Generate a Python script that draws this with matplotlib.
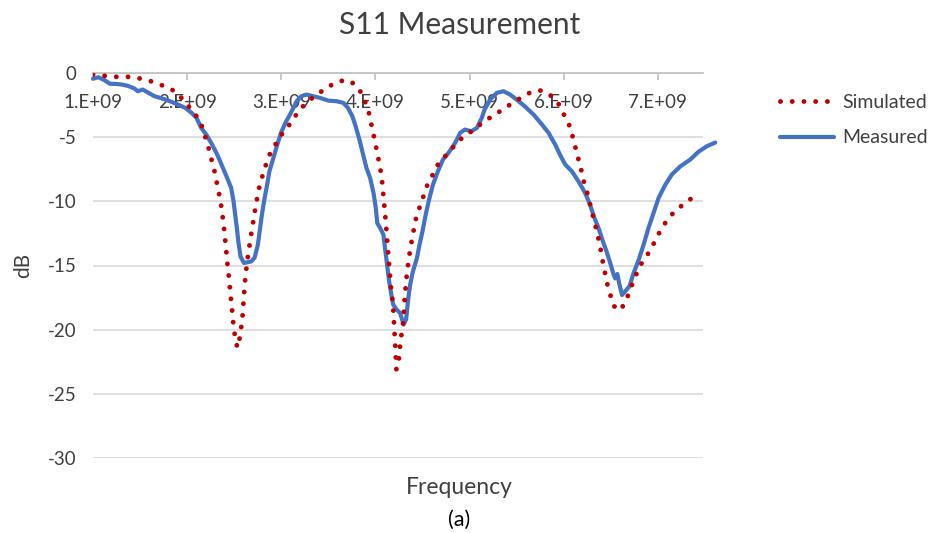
import numpy as np
import matplotlib
matplotlib.use("Agg")
import matplotlib.pyplot as plt
from matplotlib.ticker import FuncFormatter

plt.rcParams['font.family'] = ['Lato', 'DejaVu Sans']
plt.rcParams['axes.unicode_minus'] = False

# values (frequency in GHz, S11 in dB)
sim_ghz = [1.00, 1.10, 1.22, 1.33, 1.44, 1.54, 1.64, 1.73, 1.82, 1.90, 1.97, 2.04,
           2.10, 2.15, 2.185, 2.22, 2.249, 2.28, 2.302, 2.325, 2.348, 2.365, 2.38,
           2.393, 2.405, 2.416, 2.426, 2.44, 2.451, 2.462, 2.472, 2.483, 2.493,
           2.51, 2.533, 2.56, 2.587, 2.603, 2.621, 2.649, 2.684, 2.719, 2.759,
           2.82, 2.88, 2.96, 3.03, 3.09, 3.20, 3.35, 3.51, 3.61, 3.71, 3.795,
           3.85, 3.896, 3.931, 3.956, 3.98, 4.002, 4.023, 4.044, 4.066, 4.087,
           4.108, 4.126, 4.144, 4.162, 4.187, 4.201, 4.212, 4.223, 4.25, 4.265,
           4.294, 4.31, 4.328, 4.356, 4.392, 4.435, 4.477, 4.512, 4.548, 4.601,
           4.647, 4.711, 4.794, 4.852, 4.93, 5.01, 5.159, 5.325, 5.485, 5.573,
           5.657, 5.763, 5.851, 5.94, 6.029, 6.082, 6.10, 6.135, 6.16, 6.188,
           6.213, 6.246, 6.274, 6.30, 6.324, 6.352, 6.38, 6.40, 6.42, 6.443,
           6.465, 6.496, 6.531, 6.60, 6.66, 6.70, 6.742, 6.784, 6.83, 6.89,
           6.946, 6.996, 7.05, 7.11, 7.18, 7.26, 7.34, 7.41]
sim_db = [-0.12, -0.2, -0.30, -0.28, -0.33, -0.5, -0.69, -0.95, -1.21, -1.6, -2.2, -2.8,
          -3.37, -4.0, -4.8, -5.6, -6.49, -7.3, -8.05, -8.9, -9.74, -10.5, -11.35,
          -12.2, -13.07, -13.9, -14.73, -15.6, -16.5, -17.3, -18.06, -18.9, -19.75,
          -20.6, -21.4, -20.6, -19.1, -17.4, -15.7, -14.1, -12.4, -10.8, -9.1,
          -7.5, -6.3, -5.3, -4.5, -4.0, -2.8, -1.81, -1.03, -0.64, -0.56, -0.95,
          -1.55, -2.33, -3.11, -3.96, -4.8, -5.58, -6.36, -7.14, -8.05, -9.74,
          -11.43, -13.07, -14.8, -16.5, -18.06, -19.88, -21.4, -23.1, -22.3, -21.0,
          -19.5, -17.7, -16.1, -14.4, -12.8, -11.2, -10.3, -9.55, -8.8, -8.05,
          -7.3, -6.7, -6.1, -5.52, -5.0, -4.6, -3.76, -2.98, -2.2, -1.81,
          -1.47, -1.36, -1.68, -2.33, -3.63, -4.41, -5.19, -6.05, -6.83, -7.6,
          -8.44, -9.22, -10.05, -10.8, -11.56, -12.34, -13.25, -14.1, -14.9, -15.7,
          -16.5, -17.3, -18.15, -18.5, -17.8, -17.0, -16.2, -15.46, -14.8, -14.16,
          -13.45, -12.7, -12.0, -11.35, -10.78, -10.3, -9.87, -9.4]

meas_ghz = [1.00, 1.056, 1.12, 1.18, 1.24, 1.305, 1.37, 1.441, 1.476, 1.529, 1.59,
            1.654, 1.74, 1.818, 1.90, 1.978, 2.048, 2.099, 2.15, 2.203, 2.256, 2.32,
            2.38, 2.432, 2.468, 2.493, 2.511, 2.528, 2.546, 2.567, 2.603, 2.64,
            2.681, 2.716, 2.751, 2.776, 2.797, 2.823, 2.85, 2.874, 2.911, 2.957,
            3.0, 3.05, 3.093, 3.164, 3.213, 3.266, 3.34, 3.412, 3.50, 3.59, 3.66,
            3.708, 3.755, 3.79, 3.83, 3.87, 3.905, 3.944, 3.98, 4.004, 4.02, 4.05,
            4.085, 4.107, 4.128, 4.145, 4.17, 4.19, 4.227, 4.262, 4.3, 4.326, 4.35,
            4.369, 4.397, 4.44, 4.468, 4.50, 4.534, 4.57, 4.611, 4.664, 4.717,
            4.776, 4.847, 4.9, 4.95, 5.02, 5.078, 5.13, 5.16, 5.219, 5.29, 5.36,
            5.43, 5.5, 5.586, 5.68, 5.77, 5.84, 5.91, 5.96, 6.017, 6.087, 6.157,
            6.228, 6.28, 6.32, 6.37, 6.416, 6.46, 6.5, 6.53, 6.547, 6.57, 6.59,
            6.62, 6.65, 6.7, 6.742, 6.795, 6.848, 6.9, 6.955, 7.008, 7.08, 7.15,
            7.24, 7.344, 7.43, 7.52, 7.61]
meas_db = [-0.45, -0.33, -0.55, -0.84, -0.85, -0.90, -1.0, -1.21, -1.42, -1.29, -1.55,
           -1.81, -2.0, -2.2, -2.45, -2.71, -3.11, -3.5, -4.28, -4.8, -5.45, -6.36,
           -7.4, -8.3, -8.96, -10.0, -11.04, -12.07, -13.25, -14.3, -14.8, -14.75,
           -14.68, -14.4, -13.4, -12.07, -10.9, -9.74, -8.7, -7.66, -6.75, -5.6,
           -4.6, -3.8, -3.24, -2.2, -1.81, -1.68, -1.81, -1.94, -2.15, -2.2, -2.33,
           -2.71, -3.37, -4.15, -5.19, -6.36, -7.4, -8.18, -9.35, -10.5, -11.7, -12.07,
           -12.6, -13.9, -15.2, -16.2, -17.3, -18.06, -18.45, -18.7, -19.6, -19.2, -17.5,
           -16.5, -15.5, -14.45, -13.4, -12.34, -11.04, -9.87, -8.7, -7.66, -6.75,
           -6.23, -5.45, -4.67, -4.41, -4.54, -4.28, -3.5, -2.85, -2.07, -1.55, -1.42,
           -1.68, -2.07, -2.59, -3.24, -4.02, -4.67, -5.58, -6.36, -7.14, -7.66, -8.44,
           -9.35, -10.26, -11.17, -12.07, -13.1, -14.0, -14.94, -15.7, -16.0, -15.66, -16.4,
           -17.3, -17.05, -16.6, -15.6, -14.6, -13.4, -12.1, -10.9, -9.74, -8.7, -7.9,
           -7.27, -6.75, -6.15, -5.71, -5.42]

xticks = [1e9, 2e9, 3e9, 4e9, 5e9, 6e9, 7e9]
yticks = [0, -5, -10, -15, -20, -25, -30]

red = '#c00000'
blue = '#4472c4'
grid = '#d9d9d9'
txt = '#404040'

fig = plt.figure(figsize=(9.38, 5.33), dpi=100)
ax = fig.add_axes([93/938, 1-458/533, 610/938, 385/533])

sim_x = np.array(sim_ghz) * 1e9
meas_x = np.array(meas_ghz) * 1e9

ax.plot(meas_x, meas_db, color=blue, lw=3.0, solid_capstyle='round',
        clip_on=False, zorder=3, label='Measured')
ax.plot(sim_x, sim_db, color=red, lw=3.5, linestyle=(0, (0.01, 2.4)),
        dash_capstyle='round', zorder=4, label='Simulated')

ax.set_xlim(1e9, 7.48e9)
ax.set_ylim(-30, 0)
ax.set_xticks(xticks)
ax.set_yticks(yticks)
ax.xaxis.set_major_formatter(FuncFormatter(lambda v, p: f"{int(round(v/1e9))}.E+09"))

for s in ['left', 'right', 'top']:
    ax.spines[s].set_visible(False)
ax.spines['bottom'].set_position(('data', 0))
ax.spines['bottom'].set_color('#bfbfbf')
ax.spines['bottom'].set_linewidth(1.2)
ax.yaxis.grid(True, color=grid, lw=1.2)
ax.set_axisbelow(True)

ax.tick_params(axis='x', direction='out', length=5, width=1.2, color='#bfbfbf',
               labelsize=13.5, labelcolor=txt, pad=10)
ax.tick_params(axis='y', length=0, labelsize=13.5, labelcolor=txt, pad=12)

ax.set_ylabel('dB', fontsize=15, color=txt, labelpad=10)

fig.text(0.49, 1-25/533, 'S11 Measurement', ha='center', va='center', fontsize=21.5, color=txt)
fig.text(0.49, 1-487/533, 'Frequency', ha='center', va='center', fontsize=16.5, color=txt)
fig.text(0.49, 1-520/533, '(a)', ha='center', va='center', fontsize=15.5, color='black')

h, l = ax.get_legend_handles_labels()
fig.legend(h[::-1], l[::-1], loc='upper left', bbox_to_anchor=(780/938, 1-94/533),
           frameon=False, fontsize=14, handlelength=2.8, handletextpad=0.4,
           labelspacing=0.95, borderpad=0, borderaxespad=0, labelcolor=txt)

fig.savefig('out.png', dpi=100)
